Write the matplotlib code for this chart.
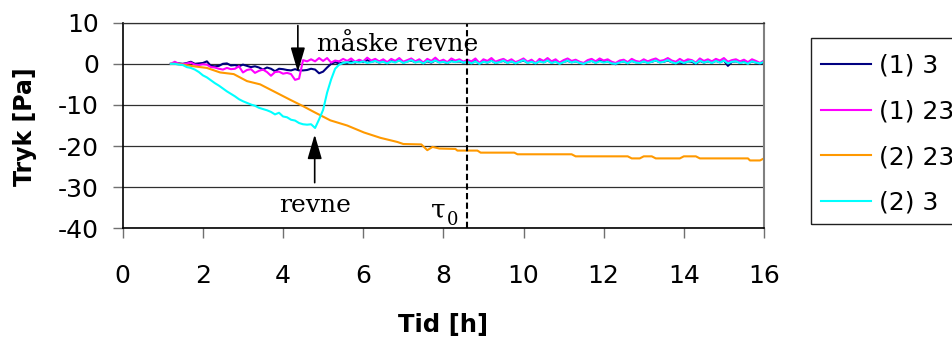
import numpy as np
import matplotlib
matplotlib.use("Agg")
import matplotlib.pyplot as plt
from matplotlib.patches import Rectangle

# ---- data -------------------------------------------------------------
# common time base for the three fast-logged series [h]
t_log = np.round(np.arange(12, 161) / 10.0, 1)

p_1_3 = [
    0.0, 0.0, 0.1, 0.0, 0.2, 0.5, 0.0, 0.1, 0.2, 0.6,
    -0.5, -0.6, -0.5, 0.0, 0.1, -0.4, -0.3, -0.6, -0.2, -0.5,
    -0.8, -0.6, -0.9, -1.4, -0.9, -1.2, -1.8, -1.2, -1.3, -1.5,
    -1.6, -1.3, -1.6, -1.6, -1.5, -1.2, -1.4, -2.3, -1.9, -0.9,
    0.0, 0.4, 0.1, 0.3,
    0.2, 0.6, 0.3, 0.8, 0.4, 0.9, 0.5, 0.7, 0.3, 0.6,
    0.2, 0.7, 0.5, 0.9, 0.3, 0.6, 0.8, 0.4, 0.7, 0.2,
    0.6, 0.3, 0.8, 0.4, 0.5, 0.2, 0.7, 0.5, 0.6, 0.3,
    0.5, 0.2, 0.7, 0.0, 0.6, 0.3, 0.8, 0.2, 0.5, 0.7,
    0.3, 0.6, 0.2, 0.5, 0.8, 0.3, 0.6, 0.1, 0.7, 0.4,
    0.8, 0.3, 0.6, 0.1, 0.5, 0.7, 0.4, 0.6, 0.3, 0.0,
    0.5, 0.7, 0.3, 0.8, 0.5, 0.6, 0.2, -0.1, 0.4, 0.6,
    0.2, 0.7, 0.4, 0.3, 0.6, 0.3, 0.5, 0.8, 0.4, 0.5,
    0.8, 0.4, 0.2, 0.3, 0.1, 0.6, 0.5, 0.0, 0.7, 0.3,
    0.6, 0.3, 0.7, 0.4, 0.8, -0.5, 0.5, 0.6, 0.3, 0.5,
    0.1, 0.6, 0.3, 0.0, 0.4,
]

p_1_23 = [
    0.0, 0.5, 0.0, -0.1, 0.1, 0.3, -0.2, -0.3, -0.1, -0.2,
    -0.8, -0.9, -1.2, -1.4, -1.0, -1.3, -1.2, -0.6, -2.1, -1.5,
    -1.3, -2.2, -1.7, -1.4, -2.0, -2.9, -2.0, -1.9, -2.4, -2.2,
    -2.5, -3.9, -3.6, 0.9, 0.6, 1.1, 0.6, 1.4, 0.7, 1.4,
    0.3, 0.8, 0.6, 1.2,
    0.7, 1.3, 0.5, 1.0, 0.6, 1.5, 0.8, 1.2, 0.6, 1.1,
    0.4, 1.2, 0.7, 1.4, 0.5, 0.9, 1.3, 0.6, 1.1, 0.3,
    1.2, 0.7, 1.5, 0.6, 1.0, 0.4, 1.3, 0.8, 1.1, 0.5,
    1.0, 0.6, 1.3, 0.2, 1.1, 0.7, 1.4, 0.5, 0.9, 1.2,
    0.6, 1.1, 0.4, 0.8, 1.3, 0.5, 1.0, 0.2, 1.2, 0.7,
    1.4, 0.6, 1.1, 0.3, 0.9, 1.3, 0.7, 1.0, 0.5, 0.2,
    0.9, 1.2, 0.6, 1.3, 0.8, 1.1, 0.5, 0.2, 0.8, 1.0,
    0.4, 1.2, 0.7, 0.5, 1.1, 0.6, 1.0, 1.3, 0.7, 0.9,
    1.4, 0.8, 0.5, 1.2, 0.6, 1.1, 0.9, 0.3, 1.3, 0.7,
    1.1, 0.6, 1.2, 0.8, 1.4, 0.5, 0.9, 1.1, 0.6, 1.0,
    0.4, 1.1, 0.7, 0.2, 0.8,
]

p_2_3 = [
    0.0, 0.0, -0.2, -0.3, -0.8, -1.0, -1.4, -2.0, -2.8, -3.3,
    -4.0, -4.7, -5.3, -6.0, -6.7, -7.3, -7.9, -8.6, -9.1, -9.5,
    -9.9, -10.2, -10.7, -11.0, -11.3, -11.7, -12.3, -11.9, -12.8, -13.0,
    -13.6, -13.8, -14.4, -14.7, -14.8, -14.7, -15.6, -13.5, -11.2, -7.0,
    -3.8, -1.2, -0.2, 0.2,
    0.4, 0.2, 0.5, 0.3, 0.6, 0.2, 0.4, 0.7, 0.3, 0.5,
    0.1, 0.6, 0.3, 0.8, 0.2, 0.5, 0.9, 0.3, 0.6, 0.1,
    0.7, 0.4, 0.8, 0.3, 0.5, 0.2, 0.6, 0.4, 0.7, 0.3,
    0.5, 0.1, 0.6, 0.0, 0.5, 0.3, 0.7, 0.2, 0.4, 0.8,
    0.2, 0.6, 0.1, 0.5, 0.9, 0.2, 0.5, 0.1, 0.6, 0.3,
    0.8, 0.2, 0.5, 0.0, 0.4, 0.8, 0.3, 0.6, 0.2, 0.0,
    0.4, 0.7, 0.2, 0.6, 0.3, 0.5, 0.1, 0.0, 0.3, 0.6,
    0.1, 0.7, 0.3, 0.2, 0.6, 0.2, 0.5, 0.8, 0.3, 0.5,
    0.9, 0.4, 0.1, 0.6, 0.2, 0.5, 0.7, 0.1, 0.8, 0.3,
    0.6, 0.2, 0.7, 0.3, 0.8, 0.1, 0.5, 0.6, 0.2, 0.4,
    0.0, 0.6, 0.3, 0.1, 0.5,
]

# slowly varying series (2) 23, logged at its own break points
t_2_23 = [1.2, 1.3, 1.5, 1.77, 2.1, 2.43, 2.77, 3.1, 3.43, 3.77, 4.18, 4.5,
          4.77, 5.18, 5.6, 6.02, 6.43, 6.85, 7.0, 7.45, 7.6, 7.73, 7.9, 8.3,
          8.35, 8.85, 8.93, 9.77, 9.85, 11.2, 11.3, 12.6, 12.7, 12.9, 13.0,
          13.2, 13.3, 13.9, 14.0, 14.3, 14.4, 15.6, 15.65, 15.9, 16.0]
p_2_23 = [0.0, 0.0, -0.2, -0.6, -1.0, -2.1, -2.5, -4.2, -5.0, -6.7, -8.75, -10.3,
          -11.7, -13.75, -15.0, -16.7, -18.0, -19.0, -19.5, -19.6, -21.0, -20.2,
          -20.6, -20.7, -21.1, -21.1, -21.6, -21.6, -22.0, -22.0, -22.5, -22.5,
          -23.0, -23.0, -22.5, -22.5, -23.0, -23.0, -22.5, -22.5, -23.0, -23.0,
          -23.5, -23.5, -23.0]

series_labels = ["(1) 3", "(1) 23", "(2) 23", "(2) 3"]
series_colors = ["#000080", "#FF00FF", "#FF9900", "#00FFFF"]

x_ticks = list(range(0, 17, 2))
y_ticks = list(range(-40, 11, 10))

tau0 = 8.58
crack_maybe = (4.37, -2.0)
crack = (4.79, -17.2)

# ---- figure -------------------------------------------------------------
W, H = 952, 340
fig = plt.figure(figsize=(W / 100, H / 100), dpi=100)
fig.patch.set_facecolor("white")

L, R, T, B = 122.7, 764.0, 22.7, 228.3
ax = fig.add_axes([L / W, 1 - B / H, (R - L) / W, (B - T) / H])

sans = "DejaVu Sans"
serif = "DejaVu Serif"

ax.plot(t_log, p_1_3, color=series_colors[0], lw=1.5, label=series_labels[0])
ax.plot(t_log, p_1_23, color=series_colors[1], lw=1.5, label=series_labels[1])
ax.plot(t_2_23, p_2_23, color=series_colors[2], lw=1.5, label=series_labels[2])
ax.plot(t_log, p_2_3, color=series_colors[3], lw=1.5, label=series_labels[3])

ax.set_xlim(0, 16)
ax.set_ylim(-40, 10)
ax.set_xticks(x_ticks)
ax.set_yticks(y_ticks)
ax.set_xticklabels([str(v) for v in x_ticks], family=sans, fontsize=18)
ax.set_yticklabels([str(v) for v in y_ticks], family=sans, fontsize=18)
ax.tick_params(axis="x", direction="out", length=7, width=1, color="#707070", pad=19)
ax.tick_params(axis="y", direction="out", length=7, width=1, color="#707070", pad=10)

ax.yaxis.grid(True, color="#303030", lw=0.9)
ax.set_axisbelow(True)
for side in ("left", "bottom"):
    ax.spines[side].set_color("black")
    ax.spines[side].set_linewidth(1.2)
ax.spines["top"].set_color("#303030")
ax.spines["top"].set_linewidth(0.9)
ax.spines["right"].set_color("#808080")
ax.spines["right"].set_linewidth(1.5)

ax.set_xlabel("Tid [h]", family=sans, fontweight="bold", fontsize=17.5)
ax.xaxis.set_label_coords(0.5, (B - 313) / (B - T))
ax.set_ylabel("Tryk [Pa]", family=sans, fontweight="bold", fontsize=17)
ax.yaxis.set_label_coords((37 - L) / (R - L), 0.495)

# tau_0 marker
ax.axvline(tau0, color="black", lw=1.5, linestyle=(0, (3, 1.6)))
ax.text(7.68, -37.3, "τ", family=serif, fontsize=19, va="baseline", ha="left")
ax.text(8.08, -39.3, "0", family=serif, fontsize=13, va="baseline", ha="left")

# crack annotations
arrow_kw = dict(arrowstyle="-|>,head_length=0.75,head_width=0.22",
                color="black", lw=1.2, shrinkA=0, shrinkB=0, mutation_scale=20)
ax.annotate("", xy=crack_maybe, xytext=(crack_maybe[0], 9.3), arrowprops=arrow_kw)
ax.annotate("", xy=crack, xytext=(crack[0], -28.9), arrowprops=arrow_kw)
ax.text(4.86, 3.2, "måske revne", family=serif, fontsize=18, va="baseline", ha="left")
ax.text(4.81, -36.0, "revne", family=serif, fontsize=18, va="baseline", ha="center")

# legend: entries without their own frame, boxed by a separate rectangle
leg = ax.legend(loc="upper left", bbox_to_anchor=(811 / W, 1 - 44 / H),
                bbox_transform=fig.transFigure, borderaxespad=0,
                prop={"family": sans, "size": 18}, frameon=False,
                borderpad=0.4, labelspacing=0.86, handlelength=2.0,
                handletextpad=0.32)
for line in leg.get_lines():
    line.set_linewidth(1.5)
fig.patches.append(Rectangle((811 / W, 1 - 224 / H), 160 / W, 186 / H,
                             transform=fig.transFigure, facecolor="none",
                             edgecolor="#202020", lw=1.0))

fig.savefig("out.png", dpi=100, facecolor="white")
